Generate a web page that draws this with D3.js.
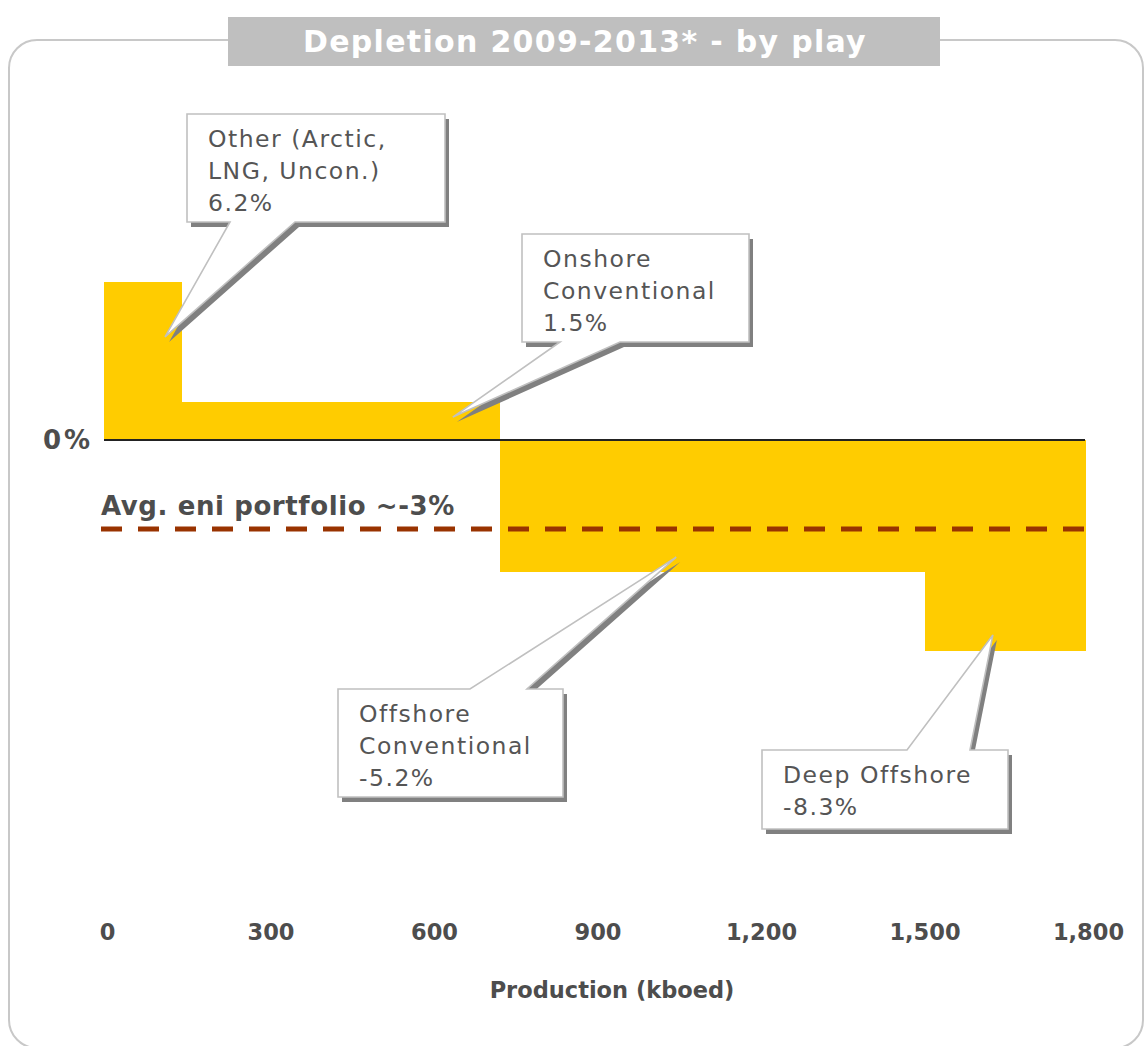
<!DOCTYPE html>
<html>
<head>
<meta charset="utf-8">
<script src="https://cdn.jsdelivr.net/npm/d3@7"></script>
<style>
  html, body { margin: 0; padding: 0; background: #fff; }
  svg { display: block; }
</style>
</head>
<body>
<script>
// ---- data ----
const plays = ["Other (Arctic, LNG, Uncon.)", "Onshore Conventional", "Offshore Conventional", "Deep Offshore"];
const playLines = [["Other (Arctic,", "LNG, Uncon.)"], ["Onshore", "Conventional"], ["Offshore", "Conventional"], ["Deep Offshore"]];
const production = [143, 583, 780, 294];          // kboed (bar widths)
const depletion = [6.2, 1.5, -5.2, -8.3];          // % per year
const avgDepletion = -3.5;                          // drawn position of the average line
const avgLabel = "Avg. eni portfolio ~-3%";
const xTicks = [0, 300, 600, 900, 1200, 1500, 1800];
const title = "Depletion 2009-2013* - by play";
const xTitle = "Production (kboed)";
const zeroLabel = "0%";

// callout layout (pixels) and anchor points in data space
const calloutLayout = [
  { box: [187, 114, 445, 222], base: [230, 295], side: "bottom", tip: [112, 4.05] },
  { box: [522, 234, 749, 342], base: [560, 620], side: "bottom", tip: [640, 0.9] },
  { box: [338, 689, 563, 797], base: [470, 527], side: "top", tip: [1050, -4.6] },
  { box: [762, 750, 1008, 829], base: [907, 970], side: "top", tip: [1631, -7.66] }
];

const W = 1144, H = 1046;
const svg = d3.select("body").append("svg").attr("width", W).attr("height", H);

// frame
svg.append("rect").attr("x", 9).attr("y", 40).attr("width", 1134).attr("height", 1008)
  .attr("rx", 28).attr("ry", 28).attr("fill", "none").attr("stroke", "#c8c8c8").attr("stroke-width", 2);

// title box
svg.append("rect").attr("x", 228).attr("y", 17).attr("width", 712).attr("height", 49).attr("fill", "#bfbfbf");
svg.append("text").attr("x", 585).attr("y", 52).attr("text-anchor", "middle")
  .attr("font-family", "DejaVu Sans, Verdana, sans-serif").attr("font-weight", "bold")
  .attr("font-size", 30).attr("letter-spacing", 1.3).attr("fill", "#fff").text(title);

// scales
const x = d3.scaleLinear().domain([0, 1800]).range([104, 1085]);
const y = d3.scaleLinear().domain([-10, 8]).range([440 + 254.5, 440 - 203.6]);

// bars
const starts = production.map((p, i) => d3.sum(production.slice(0, i)));
const bars = plays.map((name, i) => ({ name, start: starts[i], end: starts[i] + production[i], v: depletion[i] }));
svg.append("g").attr("shape-rendering", "crispEdges").selectAll("rect").data(bars).join("rect")
  .attr("x", d => x(d.start))
  .attr("width", d => x(d.end) - x(d.start) + 0.5)
  .attr("y", d => Math.min(y(d.v), y(0)))
  .attr("height", d => Math.abs(y(d.v) - y(0)))
  .attr("fill", "#ffcc00");

// zero line
svg.append("line").attr("x1", x(0)).attr("x2", x(1800)).attr("y1", y(0)).attr("y2", y(0))
  .attr("stroke", "#222").attr("stroke-width", 2);
svg.append("text").attr("x", 43).attr("y", 449)
  .attr("font-family", "DejaVu Sans, Verdana, sans-serif").attr("font-weight", "bold")
  .attr("font-size", 26).attr("letter-spacing", 3).attr("fill", "#4d4d4d").text(zeroLabel);

// average line
svg.append("line").attr("x1", 101).attr("x2", x(1800)).attr("y1", y(avgDepletion)).attr("y2", y(avgDepletion))
  .attr("stroke", "#993300").attr("stroke-width", 5).attr("stroke-dasharray", "21 16");
svg.append("text").attr("x", 101).attr("y", 515)
  .attr("font-family", "DejaVu Sans, Verdana, sans-serif").attr("font-weight", "bold")
  .attr("font-size", 26).attr("letter-spacing", 0.6).attr("fill", "#4d4d4d").text(avgLabel);

// x axis (labels only)
const ax = svg.append("g").attr("transform", "translate(0,920)")
  .call(d3.axisBottom(x).tickValues(xTicks).tickFormat(d3.format(",")).tickSize(0).tickPadding(0));
ax.select(".domain").remove();
ax.selectAll("text")
  .attr("dy", "0.9em").attr("dx", 3)
  .attr("font-family", "DejaVu Sans, Verdana, sans-serif").attr("font-weight", "bold")
  .attr("font-size", 22.5).attr("fill", "#4d4d4d");
svg.append("text").attr("x", 612).attr("y", 998).attr("text-anchor", "middle")
  .attr("font-family", "DejaVu Sans, Verdana, sans-serif").attr("font-weight", "bold")
  .attr("font-size", 22.5).attr("fill", "#4d4d4d").text(xTitle);

// callouts
function calloutPath(c) {
  const [l, t, r, b] = c.box;
  const tx = x(c.tip[0]), ty = y(c.tip[1]);
  const [p1, p2] = c.base;
  if (c.side === "bottom") {
    return `M${l},${t}H${r}V${b}H${p2}L${tx},${ty}L${p1},${b}H${l}Z`;
  }
  return `M${l},${t}H${p1}L${tx},${ty}L${p2},${t}H${r}V${b}H${l}Z`;
}
const cg = svg.append("g").selectAll("g").data(calloutLayout).join("g");
cg.append("path").attr("d", calloutPath).attr("transform", "translate(4,5)").attr("fill", "#808080");
cg.append("path").attr("d", calloutPath).attr("fill", "#fff").attr("stroke", "#c0c0c0").attr("stroke-width", 1.6);
cg.each(function (c, i) {
  const lines = playLines[i].concat([depletion[i].toFixed(1) + "%"]);
  d3.select(this).append("g").selectAll("text").data(lines).join("text")
    .attr("x", c.box[0] + 21)
    .attr("y", (d, j) => c.box[1] + 33 + j * 31.8)
    .attr("font-family", "DejaVu Sans, Verdana, sans-serif")
    .attr("font-size", 23.5).attr("letter-spacing", 1.5).attr("fill", "#555")
    .text(d => d);
});
</script>
</body>
</html>
